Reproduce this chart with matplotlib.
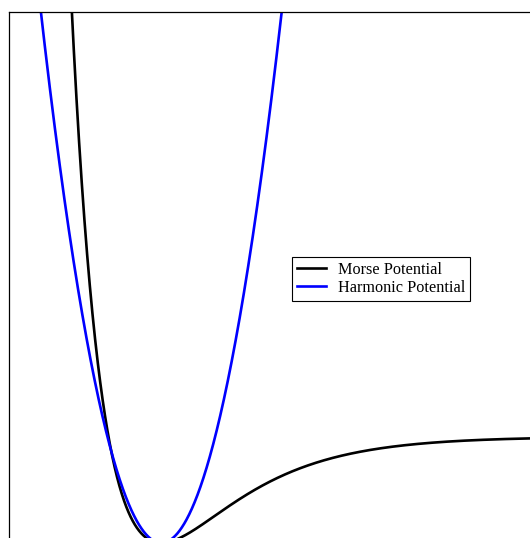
import numpy as np
from matplotlib import pyplot as plt

font_name = 'Liberation Serif'
font = {'fontname': font_name}

# Morse parameters (reduced units)
D_e = 1.0   # well depth
a = 1.0     # width parameter
r_e = 2.0   # equilibrium distance
k = 2 * D_e * a ** 2   # curvature used for the harmonic curve

r_min, r_max = 0.0, 7.0
v_min, v_max = -0.5, 5.0

r = np.linspace(r_min, r_max, 2000)
morse = D_e * (1 - np.exp(-a * (r - r_e))) ** 2
harmonic = k * (r - r_e) ** 2

fig = plt.figure(figsize=(5.3, 5.38), dpi=100)
# the picture is a crop: right and bottom edges of the axes fall outside
ax = fig.add_axes([9 / 530, 1 - 596 / 538, 533 / 530, 584 / 538])
ax.plot(r, morse, color='black', linewidth=1.9, label='Morse Potential')
ax.plot(r, harmonic, color='blue', linewidth=1.9, label='Harmonic Potential')
ax.set_xlim(r_min, r_max)
ax.set_ylim(v_min, v_max)
ax.set_xticks([])
ax.set_yticks([])
for spine in ax.spines.values():
    spine.set_linewidth(0.9)

leg = ax.legend(loc='center', bbox_to_anchor=(0.698, 0.543), fancybox=False,
                edgecolor='black', framealpha=1, prop={'family': font_name, 'size': 11.7},
                handlelength=1.8, borderpad=0.3, labelspacing=0.1, handletextpad=0.7)
leg.get_frame().set_linewidth(0.8)

plt.savefig('out.png', dpi=100)
plt.close()
